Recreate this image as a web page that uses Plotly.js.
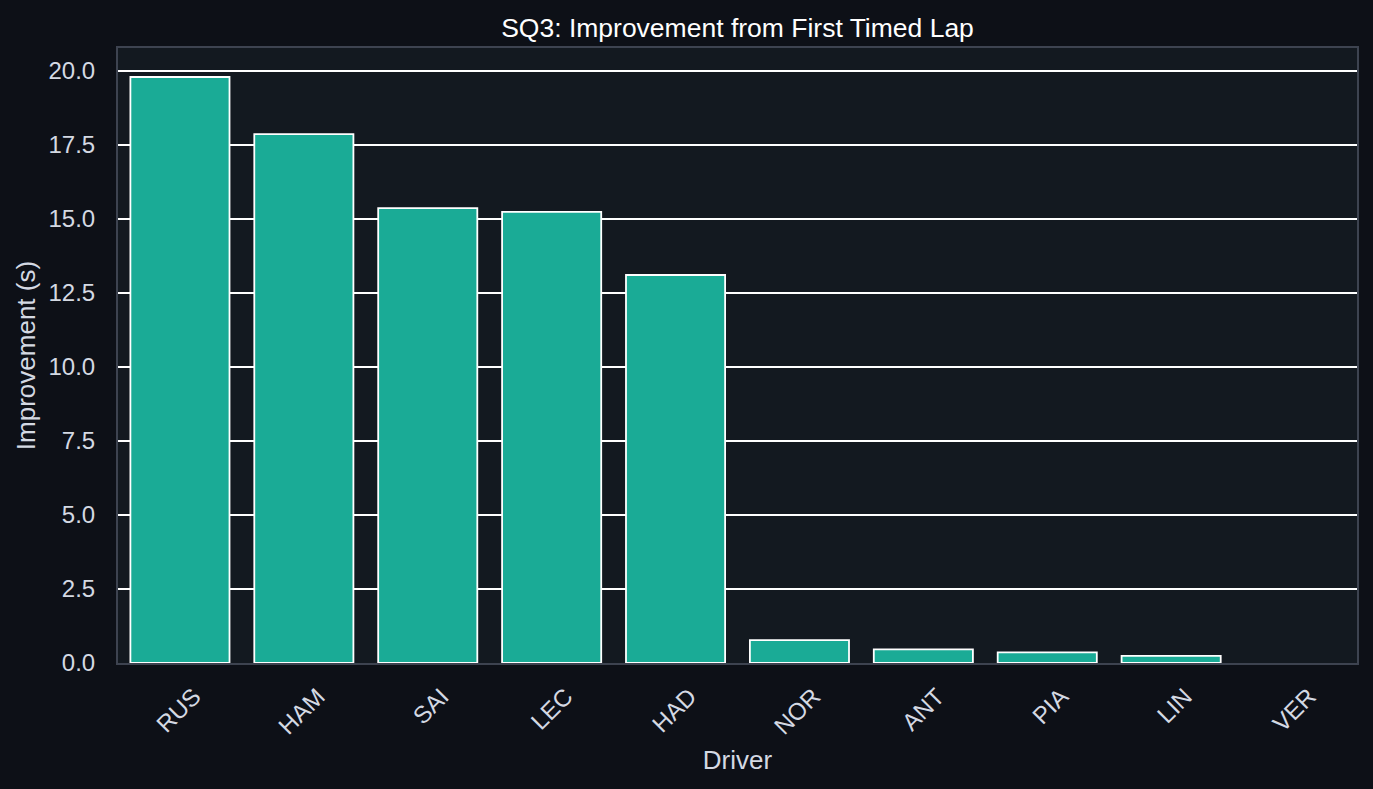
<!DOCTYPE html>
<html>
<head>
<meta charset="utf-8">
<script src="https://cdn.plot.ly/plotly-3.0.1.min.js"></script>
<style>
  html, body { margin: 0; padding: 0; background: #0d1017; }
  #chart { width: 1373px; height: 789px; }
</style>
</head>
<body>
<div id="chart"></div>
<script>
const drivers = ["RUS", "HAM", "SAI", "LEC", "HAD", "NOR", "ANT", "PIA", "LIN", "VER"];
const improvement = [19.80, 17.87, 15.37, 15.24, 13.11, 0.77, 0.46, 0.36, 0.24, 0.0];
const yTicks = [0, 2.5, 5, 7.5, 10, 12.5, 15, 17.5, 20];
const yTickText = ["0.0", "2.5", "5.0", "7.5", "10.0", "12.5", "15.0", "17.5", "20.0"];

const FONT = "Liberation Sans, Arial, sans-serif";

const trace = {
  type: "bar",
  x: drivers,
  y: improvement,
  width: 0.8,
  marker: {
    color: "#1aab96",
    line: { color: "#ffffff", width: improvement.map(v => (v > 0 ? 1.8 : 0)) }
  },
  hoverinfo: "x+y"
};

const layout = {
  width: 1373,
  height: 789,
  paper_bgcolor: "#0d1017",
  plot_bgcolor: "#131920",
  margin: { l: 118, r: 16, t: 48, b: 126, pad: 0 },
  showlegend: false,
  title: {
    text: "SQ3: Improvement from First Timed Lap",
    font: { family: FONT, size: 26.5, color: "#ffffff" },
    xref: "paper", x: 0.5, xanchor: "center",
    y: 0.965, yanchor: "middle"
  },
  xaxis: {
    type: "category",
    range: [-0.5, 9.5],
    tickangle: -45,
    tickfont: { family: FONT, size: 24, color: "#d4d9e3" },
    showgrid: false,
    zeroline: false,
    showline: true, mirror: true, linecolor: "#3d4350", linewidth: 2,
    ticks: "", ticklabelstandoff: 8, ticklabelshift: 14,
    title: { text: "Driver", font: { family: FONT, size: 26, color: "#d4d9e3" }, standoff: 12 }
  },
  yaxis: {
    range: [0, 20.78],
    tickvals: yTicks,
    ticktext: yTickText,
    tickfont: { family: FONT, size: 24, color: "#d4d9e3" },
    showgrid: true, gridcolor: "#ffffff", gridwidth: 1.6,
    zeroline: false,
    showline: true, mirror: true, linecolor: "#3d4350", linewidth: 2,
    ticks: "", ticklabelstandoff: 16,
    title: { text: "Improvement (s)", font: { family: FONT, size: 26, color: "#d4d9e3" }, standoff: 5 }
  },
  bargap: 0.2
};

Plotly.newPlot("chart", [trace], layout, { displayModeBar: false, staticPlot: true });
</script>
</body>
</html>
